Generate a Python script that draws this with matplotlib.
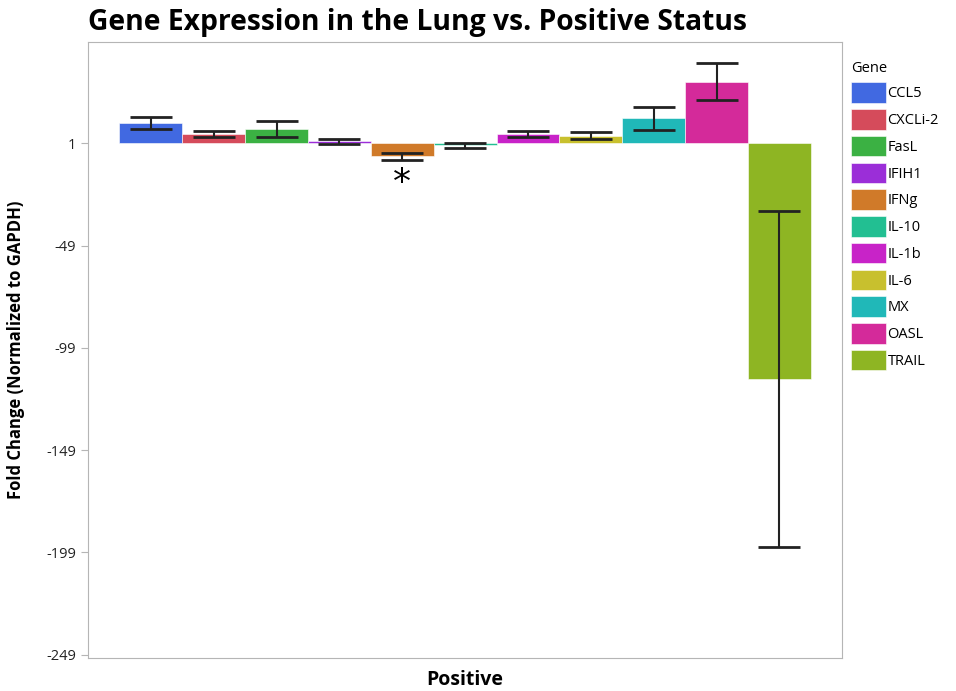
import matplotlib.pyplot as plt

plt.rcParams['font.family'] = ['Open Sans', 'DejaVu Sans']

genes = ['CCL5', 'CXCLi-2', 'FasL', 'IFIH1', 'IFNg', 'IL-10', 'IL-1b', 'IL-6', 'MX', 'OASL', 'TRAIL']
fold = [10.9, 5.6, 8.0, 2.0, -5.2, 0.1, 5.8, 4.7, 13.2, 31.2, -114.2]
err = [3.1, 1.7, 4.0, 1.2, 1.7, 1.2, 1.5, 1.7, 5.8, 9.2, 82.2]
colors = ['#4169e1', '#d54b5b', '#3bb143', '#9b2ed8', '#d07a29', '#22bf92',
          '#c823c8', '#c8c02e', '#20b8b8', '#d42a9a', '#8eb523']
yticks = [1, -49, -99, -149, -199, -249]
base = 1

fig = plt.figure(figsize=(9.56, 6.91), dpi=100)
ax = fig.add_axes([0.092, 0.048, 0.789, 0.891])

x = list(range(len(genes)))
heights = [v - base for v in fold]
bars = ax.bar(x, heights, bottom=base, width=1.0, color=colors, label=genes,
              edgecolor='white', linewidth=0.4)
ax.errorbar(x, fold, yerr=err, fmt='none', ecolor='#222222', elinewidth=1.5,
            capsize=15, capthick=2)

ax.text(x[4], fold[4] - err[4] - 3, '*', ha='center', va='top', fontsize=26,
        family='DejaVu Sans')

ax.set_xlim(-1.0, 11.0)
ax.set_ylim(-250.5, 50.5)
ax.set_yticks(yticks)
ax.set_yticklabels([str(t) for t in yticks], fontsize=10.5)
ax.set_xticks([])
for s in ax.spines.values():
    s.set_color('#b5b5b5')
ax.tick_params(axis='y', colors='#b5b5b5', labelcolor='#222222', length=5)

ax.set_xlabel('Positive', fontsize=14, fontweight='bold', labelpad=9)
ax.set_ylabel('Fold Change (Normalized to GAPDH)', fontsize=12, fontweight='bold', labelpad=15)
ax.set_title('Gene Expression in the Lung vs. Positive Status', fontsize=20.3,
             fontweight='bold', loc='left', pad=9)

leg = fig.legend(bars, genes, loc='upper left', bbox_to_anchor=(0.884, 0.92),
                 frameon=False, title='Gene', fontsize=10.5, title_fontsize=10.5,
                 handlelength=2.4, handleheight=1.8, labelspacing=0.42,
                 handletextpad=0.1, borderaxespad=0)
leg._legend_box.align = 'left'

fig.savefig('out.png', dpi=100)
